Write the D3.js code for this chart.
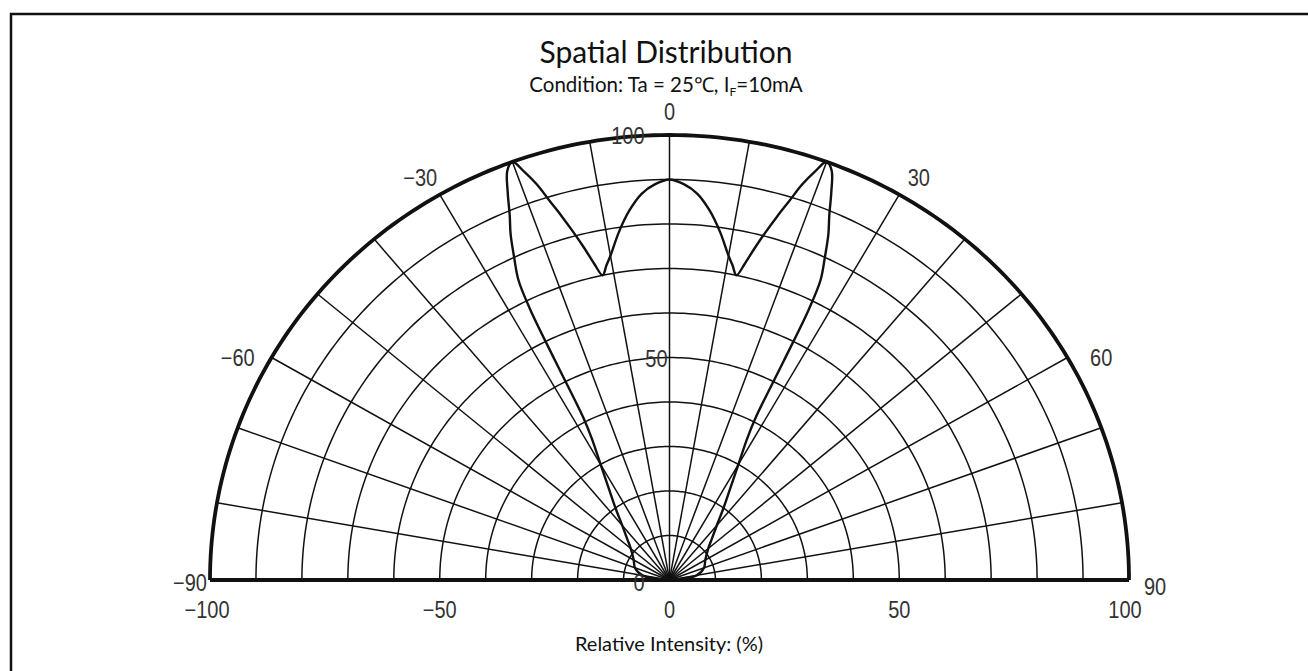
<!DOCTYPE html>
<html>
<head>
<meta charset="utf-8">
<script src="https://cdn.jsdelivr.net/npm/d3@7"></script>
<style>
    body { margin: 0; background: #fff; }
    .title { font-family: Lato, "Open Sans", sans-serif; fill: #111; }
    .num { font-family: "Liberation Sans", Arial, sans-serif; fill: #333; font-size: 20px; }
</style>
</head>
<body>
<svg width="1308" height="671"></svg>
<script>
    // angle (deg) and relative intensity (%)
    const curveAngles = [-90, -80, -70, -60, -50, -45, -40, -36, -33, -30, -28, -27.2, -26.8, -26.5, -26, -25, -24, -23, -22, -21, -20,
        -19, -18, -17, -16, -15, -14, -13, -12, -11, -10, -8, -6, -4, -2, 0,
        2, 4, 6, 8, 10, 11, 12, 13, 14, 15, 16, 17, 18, 19,
        20, 21, 22, 23, 24, 25, 26, 26.5, 26.8, 27.2, 28, 30, 33, 36, 40, 45, 50, 60, 70, 80, 90];
    const curveValues = [0, 6, 8, 9, 11, 13, 16, 20, 24, 30, 36, 41, 55, 68, 75, 80, 85, 89, 94, 98.5, 100,
        97, 93.5, 89, 85, 81, 77, 73, 70, 72, 74, 79, 83.5, 87, 89, 90,
        89, 87, 83.5, 79, 74, 72, 70, 73, 77, 81, 85, 89, 93.5, 97,
        100, 98.5, 94, 89, 85, 80, 75, 68, 55, 41, 36, 30, 24, 20, 16, 13, 11, 9, 8, 6, 0];

    const gridRadii = [10, 20, 30, 40, 50, 60, 70, 80, 90, 100];
    const spokeAngles = [-80, -70, -60, -50, -40, -30, -20, -10, 0, 10, 20, 30, 40, 50, 60, 70, 80];
    const angleLabels = [-90, -60, -30, 0, 30, 60, 90];
    const xTicks = [-100, -50, 0, 50, 100];
    const radiusLabels = [0, 50, 100];

    const svg = d3.select("svg");

    const x = d3.scaleLinear().domain([-100, 100]).range([210, 1129]);
    const y = d3.scaleLinear().domain([0, 100]).range([580, 135]);
    const rad = d => d * Math.PI / 180;
    const px = (a, r) => x(r * Math.sin(rad(a)));
    const py = (a, r) => y(r * Math.cos(rad(a)));
    const minus = v => String(v).replace("-", "\u2212");

    // frame
    svg.append("rect")
        .attr("x", 11).attr("y", 14)
        .attr("width", 1400).attr("height", 800)
        .attr("fill", "none").attr("stroke", "#111").attr("stroke-width", 2.5);

    const grid = svg.append("g").attr("stroke", "#111").attr("fill", "none");
    const arcLine = d3.line().x(d => d[0]).y(d => d[1]);

    // circles
    const arcSteps = d3.range(-90, 90.5, 1);
    grid.selectAll("path.ring")
        .data(gridRadii)
        .enter().append("path")
        .attr("class", "ring")
        .attr("d", r => arcLine(arcSteps.map(a => [px(a, r), py(a, r)])))
        .attr("stroke-width", r => r === 100 ? 3.8 : 1.5);

    // spokes
    grid.selectAll("line.spoke")
        .data(spokeAngles)
        .enter().append("line")
        .attr("class", "spoke")
        .attr("x1", px(0, 0)).attr("y1", py(0, 0))
        .attr("x2", a => px(a, 100)).attr("y2", a => py(a, 100))
        .attr("stroke-width", 1.5);

    // baseline
    svg.append("line")
        .attr("x1", x(-100)).attr("x2", x(100))
        .attr("y1", y(0)).attr("y2", y(0))
        .attr("stroke", "#111").attr("stroke-width", 4);

    // intensity curve
    const pts = curveAngles.map((a, i) => [px(a, curveValues[i]), py(a, curveValues[i])]);
    svg.append("path")
        .attr("d", d3.line().curve(d3.curveCatmullRom.alpha(0.5))(pts))
        .attr("fill", "none").attr("stroke", "#111").attr("stroke-width", 2.4);

    // tall narrow number text: centre (cx, cy)
    const num = (sel, anchor, cx, cy) => sel
        .attr("class", "num")
        .attr("text-anchor", anchor)
        .attr("transform", (d, i) => `translate(${cx(d)},${cy(d) + 8}) scale(1,1.15)`);

    // angle labels
    num(svg.selectAll("text.ang").data(angleLabels).enter().append("text"),
        "middle",
        a => a === -90 ? x(-100) - 20 : a === 90 ? x(100) + 26 : px(a, 100) + 39 * Math.sin(rad(a)),
        a => a === -90 ? y(0) + 3 : a === 90 ? y(0) + 7 : py(a, 100) + 23 - 46 * Math.cos(rad(a)))
        .text(minus);

    // x tick labels
    num(svg.selectAll("text.xt").data(xTicks).enter().append("text"),
        "middle",
        d => x(d) + (d === -100 ? -3 : d === 100 ? -4 : 0),
        d => y(0) + 30)
        .text(minus);

    // radius labels along the centre line
    num(svg.selectAll("text.rt").data(radiusLabels).enter().append("text"),
        "end",
        r => x(0) - (r === 50 ? 2 : 25),
        r => y(r) + (r === 0 ? 3 : 1))
        .text(r => r);

    // titles
    svg.append("text").attr("class", "title")
        .attr("x", 666).attr("y", 63).attr("text-anchor", "middle")
        .attr("font-size", 30).text("Spatial Distribution");

    const sub = svg.append("text").attr("class", "title")
        .attr("x", 666).attr("y", 92).attr("text-anchor", "middle")
        .attr("font-size", 20.5);
    sub.append("tspan").text("Condition: Ta = 25\u2103, I");
    sub.append("tspan").attr("font-size", 12).attr("dy", 4).text("F");
    sub.append("tspan").attr("dy", -4).text("=10mA");

    svg.append("text").attr("class", "title")
        .attr("x", 669).attr("y", 651).attr("text-anchor", "middle")
        .attr("font-size", 20).text("Relative Intensity: (%)");
</script>
</body>
</html>
